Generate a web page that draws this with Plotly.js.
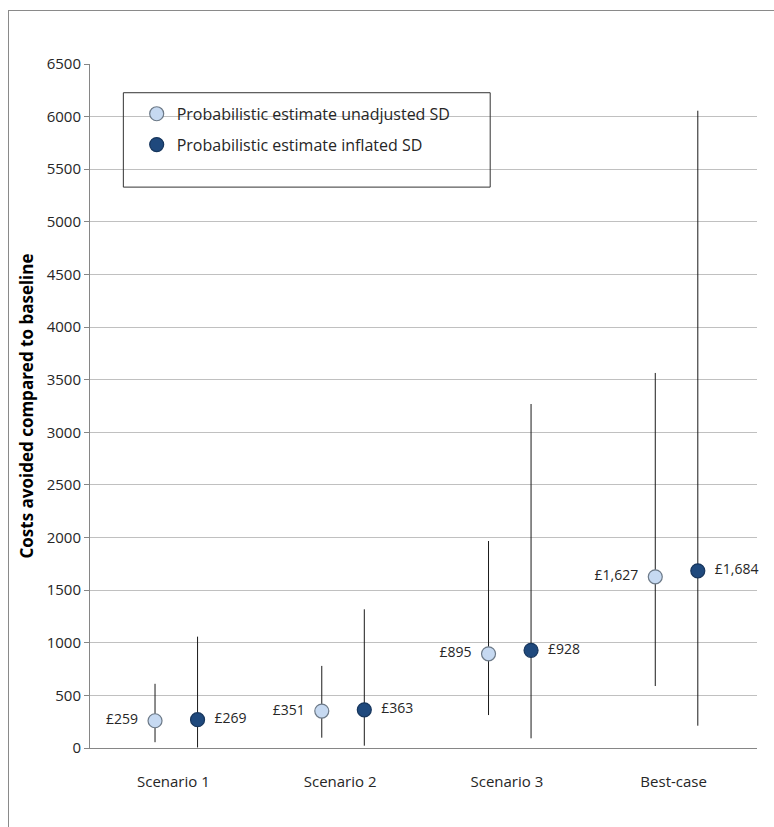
<!DOCTYPE html>
<html>
<head>
<meta charset="utf-8">
<script src="https://cdn.plot.ly/plotly-3.0.1.min.js"></script>
<style>
  html, body { margin: 0; padding: 0; background: #fff; }
  #wrap { position: relative; width: 774px; height: 827px; overflow: hidden; }
  #chart { width: 774px; height: 827px; }
  #frame { position: absolute; left: 8px; top: 10px; width: 900px; height: 900px;
           border-left: 1px solid #8a8a8a; border-top: 1px solid #8a8a8a; pointer-events: none; }
</style>
</head>
<body>
<div id="wrap">
  <div id="chart"></div>
  <div id="frame"></div>
</div>
<script>
// Data
const categories = ["Scenario 1", "Scenario 2", "Scenario 3", "Best-case"];
const unadjMean = [259, 351, 895, 1627];
const unadjLow  = [55, 98, 313, 589];
const unadjHigh = [610, 780, 1967, 3564];
const inflMean  = [269, 363, 928, 1684];
const inflLow   = [5, 22, 92, 212];
const inflHigh  = [1058, 1318, 3269, 6056];
const unadjLabels = ["£259", "£351", "£895", "£1,627"];
const inflLabels  = ["£269", "£363", "£928", "£1,684"];
const seriesNames = ["Probabilistic estimate unadjusted SD", "Probabilistic estimate inflated SD"];
const yTicks = [0, 500, 1000, 1500, 2000, 2500, 3000, 3500, 4000, 4500, 5000, 5500, 6000, 6500];

const idx = categories.map((_, i) => i);
const font = "Open Sans, Noto Sans, sans-serif";
const NB = "\u00a0";

const errTrace = (means, lows, highs) => ({
  type: "scatter",
  error_y: {
    type: "data",
    symmetric: false,
    array: highs.map((h, i) => h - means[i]),
    arrayminus: lows.map((l, i) => means[i] - l),
    color: "#1a1a1a",
    thickness: 1,
    width: 0
  }
});

const traces = [
  Object.assign(errTrace(unadjMean, unadjLow, unadjHigh), {
    name: seriesNames[0],
    legendgroup: "a",
    x: idx.map(i => i - 0.11),
    y: unadjMean,
    mode: "markers+text",
    text: unadjLabels.map(s => s + NB + NB),
    textposition: "middle left",
    textfont: { family: font, size: 14, color: "#262626" },
    marker: { size: 14, color: "#c6d9f1", line: { color: "#6d7a88", width: 1.2 } },
    cliponaxis: false
  }),
  Object.assign(errTrace(inflMean, inflLow, inflHigh), {
    name: seriesNames[1],
    legendgroup: "b",
    x: idx.map(i => i + 0.145),
    y: inflMean,
    mode: "markers+text",
    text: inflLabels.map(s => NB + NB + s),
    textposition: "middle right",
    textfont: { family: font, size: 14, color: "#262626" },
    marker: { size: 14, color: "#1f497d", line: { color: "#17365d", width: 1.2 } },
    cliponaxis: false
  })
];

const layout = {
  width: 774,
  height: 827,
  margin: { l: 90, r: 17, t: 64, b: 79 },
  paper_bgcolor: "#ffffff",
  plot_bgcolor: "#ffffff",
  font: { family: font, size: 15, color: "#262626" },
  showlegend: true,
  legend: {
    x: 0.07, y: 0.952, xanchor: "left", yanchor: "top",
    bgcolor: "rgba(0,0,0,0)",
    borderwidth: 0,
    font: { family: font, size: 16, color: "#262626" },
    traceorder: "grouped",
    tracegroupgap: 7,
    itemclick: false
  },
  xaxis: {
    range: [-0.5, 3.5],
    tickvals: idx,
    ticktext: categories,
    showgrid: false,
    zeroline: false,
    showline: true,
    linecolor: "#868686",
    linewidth: 1,
    ticks: "",
    ticklabelstandoff: 20,
    tickfont: { family: font, size: 15, color: "#262626" },
    fixedrange: true
  },
  yaxis: {
    range: [0, 6500],
    tickvals: yTicks,
    ticktext: yTicks.map(String),
    showgrid: true,
    gridcolor: "#c0c0c0",
    gridwidth: 1,
    zeroline: false,
    showline: true,
    linecolor: "#868686",
    linewidth: 1,
    ticks: "outside",
    ticklen: 5,
    tickcolor: "#868686",
    tickfont: { family: font, size: 15, color: "#262626" },
    title: {
      text: "<b>Costs avoided compared to baseline</b>",
      font: { family: font, size: 17, color: "#000000" },
      standoff: 8
    },
    fixedrange: true
  },
  shapes: [{
    type: "rect", xref: "paper", yref: "paper",
    x0: 0.05, x1: 0.6, y0: 0.82, y1: 0.958,
    line: { color: "#333333", width: 1 },
    fillcolor: "rgba(0,0,0,0)",
    layer: "above"
  }]
};

Plotly.newPlot("chart", traces, layout, { staticPlot: true, displayModeBar: false });
</script>
</body>
</html>
